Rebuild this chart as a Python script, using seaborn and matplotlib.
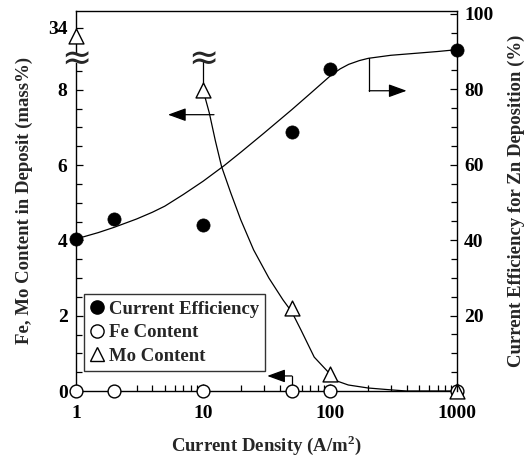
import numpy as np
import pandas as pd
import matplotlib
matplotlib.use("Agg")
import matplotlib.pyplot as plt
import matplotlib.transforms as mtransforms
from matplotlib.lines import Line2D
from matplotlib.patches import Rectangle
import seaborn as sns

# ---------------- data ----------------
ce_density = [1, 2, 10, 50, 100, 1000]
ce_values = [40.3, 45.5, 44.0, 68.7, 85.4, 90.4]

fe_density = [1, 2, 10, 50, 100, 1000]
fe_values = [0, 0, 0, 0, 0, 0]

mo_density = [1, 10, 50, 100, 1000]
mo_values = [33, 8.0, 2.2, 0.45, 0.0]

# fitted curves
ce_curve_x = [1, 1.5, 2, 3, 4, 5, 7, 10, 14.6, 20, 30, 50, 70, 100, 120, 140,
              170, 200, 300, 500, 700, 1000]
ce_curve_y = [40.3, 42.0, 43.4, 45.6, 47.4, 49.0, 52.1, 55.6, 59.7, 63.4, 68.3,
              74.6, 78.9, 83.5, 85.4, 86.6, 87.6, 88.2, 89.0, 89.6, 90.0, 90.5]

mo_curve_x = [10, 11.2, 12.5, 14.0, 16.5, 19.8, 25, 33, 42.6, 50, 59, 75, 100,
              108, 139, 199, 302, 400, 1000]
mo_curve_y = [8.0, 7.39, 6.65, 5.96, 5.27, 4.55, 3.75, 3.0, 2.42, 2.1, 1.62,
              0.9, 0.45, 0.29, 0.16, 0.08, 0.03, 0.0, 0.0]

mo_break_x = [10, 10]
mo_break_y = [8.0, 8.75]

x_ticks = [1, 10, 100, 1000]
x_tick_labels = ["1", "10", "100", "1000"]
left_ticks = [0, 2, 4, 6, 8, 34]
left_tick_labels = ["0", "2", "4", "6", "8", "34"]
right_ticks = [20, 40, 60, 80, 100]
right_tick_labels = ["20", "40", "60", "80", "100"]

# ---------------- style ----------------
sns.set_style("ticks")
plt.rcParams["font.family"] = ["Liberation Serif", "DejaVu Serif"]
plt.rcParams["font.weight"] = "bold"
plt.rcParams["axes.labelweight"] = "bold"
plt.rcParams["mathtext.fontset"] = "custom"
plt.rcParams["mathtext.bf"] = "Liberation Serif:bold"
plt.rcParams["mathtext.rm"] = "Liberation Serif:bold"

FS_TICK = 14
FS_LABEL = 13.5
FS_LEG = 13.5


def fwd(y):
    y = np.asarray(y, float)
    return np.where(y <= 9, y,
                    np.where(y <= 31, 9 + (y - 9) * 0.001, 9.022 + (y - 31) * 0.209))


def inv(d):
    d = np.asarray(d, float)
    return np.where(d <= 9, d,
                    np.where(d <= 9.022, 9 + (d - 9) / 0.001, 31 + (d - 9.022) / 0.209))


fig = plt.figure(figsize=(5.31, 4.57), dpi=100)
ax = fig.add_axes([0.143, 0.1444, 0.718, 0.832])
ax2 = ax.twinx()

ax.set_xscale("log")
ax.set_yscale("function", functions=(fwd, inv))
ax.set_xlim(1, 1000)
ax.set_ylim(0, float(inv(10.1)))
ax2.set_ylim(0, 100.8)

ce_df = pd.DataFrame({"x": ce_density, "y": ce_values})
fe_df = pd.DataFrame({"x": fe_density, "y": fe_values})
mo_df = pd.DataFrame({"x": mo_density, "y": mo_values})
ce_curve = pd.DataFrame({"x": ce_curve_x, "y": ce_curve_y})
mo_curve = pd.DataFrame({"x": mo_curve_x, "y": mo_curve_y})
mo_brk = pd.DataFrame({"x": mo_break_x, "y": mo_break_y})

# curves
sns.lineplot(data=mo_curve, x="x", y="y", ax=ax, color="black", lw=0.9,
             sort=False, estimator=None, legend=False)
sns.lineplot(data=mo_brk, x="x", y="y", ax=ax, color="black", lw=0.9,
             sort=False, estimator=None, legend=False)
sns.lineplot(data=ce_curve, x="x", y="y", ax=ax2, color="black", lw=0.9,
             sort=False, estimator=None, legend=False)

# points
sns.scatterplot(data=fe_df, x="x", y="y", ax=ax, marker="o", s=85,
                facecolor="white", edgecolor="black", linewidth=1.0,
                clip_on=False, zorder=5, legend=False)
sns.scatterplot(data=mo_df, x="x", y="y", ax=ax, marker="^", s=115,
                facecolor="white", edgecolor="black", linewidth=1.0,
                clip_on=False, zorder=6, legend=False)
sns.scatterplot(data=ce_df, x="x", y="y", ax=ax2, marker="o", s=90,
                color="black", edgecolor="black", linewidth=0.5,
                clip_on=False, zorder=6, legend=False)

# arrows
arrow_kw = dict(arrowstyle="-|>,head_length=0.55,head_width=0.2",
                mutation_scale=20, lw=0.9, color="black", shrinkA=0, shrinkB=0)
ax.annotate("", xy=(5.3, 7.34), xytext=(12.2, 7.34), arrowprops=arrow_kw)
ax2.plot([203, 203], [88.2, 79.6], color="black", lw=0.9)
ax2.annotate("", xy=(400, 79.6), xytext=(203, 79.6), arrowprops=arrow_kw)
ax.plot([50, 50], [0, 0.4], color="black", lw=0.9)
ax.annotate("", xy=(32, 0.4), xytext=(50, 0.4), arrowprops=arrow_kw)

# break marks
trans = mtransforms.blended_transform_factory(ax.transAxes, ax.transData)
ax.add_patch(Rectangle((-0.01, 8.72), 0.02, 0.2, transform=trans,
                       facecolor="white", edgecolor="none", zorder=3.5,
                       clip_on=False))
ax.text(0.0, 8.8, "≈", transform=trans, ha="center", va="center",
        fontsize=26, family="DejaVu Sans", weight="normal", zorder=4,
        clip_on=False)
ax.text(10, 8.8, "≈", ha="center", va="center",
        fontsize=26, family="DejaVu Sans", weight="normal", zorder=4)

# ticks
ax.set_xticks(x_ticks)
ax.set_xticklabels(x_tick_labels, fontsize=FS_TICK, fontweight="bold")
ax.set_yticks(left_ticks)
ax.set_yticklabels(left_tick_labels, fontsize=FS_TICK, fontweight="bold")
ax.set_yticks(list(np.arange(0.5, 8.51, 0.5)), minor=True)
ax2.set_yticks(right_ticks)
ax2.set_yticklabels(right_tick_labels, fontsize=FS_TICK, fontweight="bold")
ax2.set_yticks(list(range(5, 100, 5)), minor=True)

for a in (ax, ax2):
    a.tick_params(which="both", direction="in", width=0.9, colors="black")
    a.tick_params(which="major", length=5)
    a.tick_params(which="minor", length=4)
ax.tick_params(axis="x", which="major", pad=10)
ax.tick_params(axis="y", which="major", pad=6)
ax2.tick_params(axis="y", which="major", pad=5)

ax.spines["right"].set_visible(False)
for s in ["left", "bottom", "top"]:
    ax2.spines[s].set_visible(False)
for a in (ax, ax2):
    for sp in a.spines.values():
        sp.set_linewidth(1.0)
        sp.set_color("black")

ax.set_xlabel("Current Density (A/m$^{\\mathbf{2}}$)", fontsize=FS_LABEL,
              fontweight="bold", labelpad=8)
ax.set_ylabel("Fe, Mo Content in Deposit (mass%)", fontsize=FS_LABEL,
              fontweight="bold", labelpad=11)
ax2.set_ylabel("Current Efficiency for Zn Deposition (%)", fontsize=FS_LABEL,
               fontweight="bold", labelpad=10)

# legend
handles = [
    Line2D([], [], marker="o", ls="none", color="black", markersize=9.5),
    Line2D([], [], marker="o", ls="none", mfc="white", mec="black", markersize=9.5),
    Line2D([], [], marker="^", ls="none", mfc="white", mec="black", markersize=10.5),
]
labels = ["Current Efficiency", "Fe Content", "Mo Content"]
leg = ax2.legend(handles, labels, loc="lower left", bbox_to_anchor=(0.021, 0.053),
                 borderaxespad=0, frameon=True, fancybox=False, edgecolor="black",
                 handlelength=0.7, handletextpad=0.3, borderpad=0.33,
                 labelspacing=0.34,
                 prop={"family": "Liberation Serif", "weight": "bold", "size": FS_LEG})
leg.get_frame().set_linewidth(1.0)
leg.set_zorder(10)

fig.savefig("out.png", dpi=100)
